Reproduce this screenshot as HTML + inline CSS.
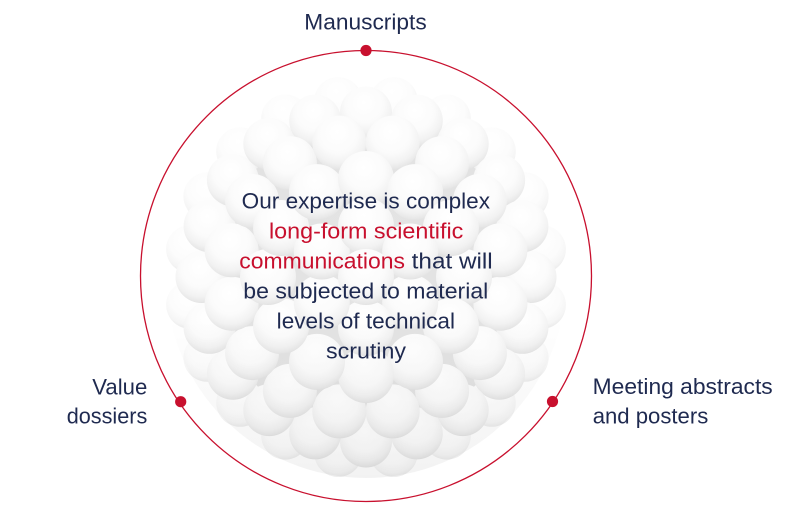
<!DOCTYPE html>
<html>
<head>
<meta charset="utf-8">
<style>
  html,body{margin:0;padding:0;background:#ffffff;}
  body{width:793px;height:516px;overflow:hidden;}
  svg{display:block;}
  .t{font-family:"Liberation Sans",Arial,sans-serif;font-size:22.5px;fill:#1f2a50;}
  .r{fill:#c8102e;}
</style>
</head>
<body>
<svg width="793" height="516" viewBox="0 0 793 516" xmlns="http://www.w3.org/2000/svg">
  <defs>
    <radialGradient id="ball" cx="0.48" cy="0.36" r="0.66" fx="0.46" fy="0.3">
      <stop offset="0" stop-color="#ffffff"/>
      <stop offset="0.55" stop-color="#fbfbfb"/>
      <stop offset="0.8" stop-color="#f2f2f2"/>
      <stop offset="0.94" stop-color="#e7e7e7"/>
      <stop offset="1" stop-color="#dedede"/>
    </radialGradient>
    <radialGradient id="ballo" cx="0.48" cy="0.36" r="0.66" fx="0.46" fy="0.3">
      <stop offset="0" stop-color="#ffffff"/>
      <stop offset="0.6" stop-color="#fcfcfc"/>
      <stop offset="0.85" stop-color="#f5f5f5"/>
      <stop offset="1" stop-color="#e9e9e9"/>
    </radialGradient>
    <radialGradient id="blob" cx="0.5" cy="0.45" r="0.55">
      <stop offset="0" stop-color="#e4e4e4"/>
      <stop offset="0.85" stop-color="#e2e2e2"/>
      <stop offset="1" stop-color="#ebebeb"/>
    </radialGradient>
    <linearGradient id="shade" x1="0" y1="0" x2="0" y2="1">
      <stop offset="0" stop-color="#000" stop-opacity="0"/>
      <stop offset="0.6" stop-color="#000" stop-opacity="0"/>
      <stop offset="1" stop-color="#000" stop-opacity="0.05"/>
    </linearGradient>
  </defs>

  <rect width="793" height="516" fill="#ffffff"/>

  <!-- ball cluster -->
  <circle cx="366" cy="278" r="182" fill="url(#blob)"/>
  <g fill="url(#ballo)">
    <!-- ring 5 -->
    <circle cx="541.9" cy="304.8" r="24"/><circle cx="524.6" cy="357.8" r="24"/><circle cx="491.8" cy="402.8" r="24"/><circle cx="446.8" cy="435.6" r="24"/><circle cx="393.8" cy="452.9" r="24"/>
    <circle cx="338.2" cy="452.9" r="24"/><circle cx="285.2" cy="435.6" r="24"/><circle cx="240.2" cy="402.8" r="24"/><circle cx="207.4" cy="357.8" r="24"/><circle cx="190.1" cy="304.8" r="24"/>
    <circle cx="190.1" cy="249.2" r="24"/><circle cx="207.4" cy="196.2" r="24"/><circle cx="240.2" cy="151.2" r="24"/><circle cx="285.2" cy="118.4" r="24"/><circle cx="338.2" cy="101.1" r="24"/>
    <circle cx="393.8" cy="101.1" r="24"/><circle cx="446.8" cy="118.4" r="24"/><circle cx="491.8" cy="151.2" r="24"/><circle cx="524.6" cy="196.2" r="24"/><circle cx="541.9" cy="249.2" r="24"/>
  </g>
  <g fill="url(#ball)">
    <!-- ring 4 -->
    <g>
      <circle cx="530.5" cy="277" r="26"/><circle cx="522.4" cy="327.8" r="26"/><circle cx="499.1" cy="373.7" r="26"/><circle cx="462.7" cy="410.1" r="26"/><circle cx="416.8" cy="433.4" r="26"/>
      <circle cx="366" cy="441.5" r="26"/><circle cx="315.2" cy="433.4" r="26"/><circle cx="269.3" cy="410.1" r="26"/><circle cx="232.9" cy="373.7" r="26"/><circle cx="209.6" cy="327.8" r="26"/>
      <circle cx="201.5" cy="277" r="26"/><circle cx="209.6" cy="226.2" r="26"/><circle cx="232.9" cy="180.3" r="26"/><circle cx="269.3" cy="143.9" r="26"/><circle cx="315.2" cy="120.6" r="26"/>
      <circle cx="366" cy="112.5" r="26"/><circle cx="416.8" cy="120.6" r="26"/><circle cx="462.7" cy="143.9" r="26"/><circle cx="499.1" cy="180.3" r="26"/><circle cx="522.4" cy="226.2" r="26"/>
    </g>
    <!-- ring 3 -->
    <g>
      <circle cx="500.4" cy="303.7" r="27"/><circle cx="479.9" cy="353.1" r="27"/><circle cx="442.1" cy="390.9" r="27"/><circle cx="392.7" cy="411.4" r="27"/>
      <circle cx="339.3" cy="411.4" r="27"/><circle cx="289.9" cy="390.9" r="27"/><circle cx="252.1" cy="353.1" r="27"/><circle cx="231.6" cy="303.7" r="27"/>
      <circle cx="231.6" cy="250.3" r="27"/><circle cx="252.1" cy="200.9" r="27"/><circle cx="289.9" cy="163.1" r="27"/><circle cx="339.3" cy="142.6" r="27"/>
      <circle cx="392.7" cy="142.6" r="27"/><circle cx="442.1" cy="163.1" r="27"/><circle cx="479.9" cy="200.9" r="27"/><circle cx="500.4" cy="250.3" r="27"/>
    </g>
    <!-- ring 2 -->
    <g>
      <circle cx="464" cy="277" r="28"/><circle cx="450.9" cy="326" r="28"/><circle cx="415" cy="361.9" r="28"/><circle cx="366" cy="375" r="28"/>
      <circle cx="317" cy="361.9" r="28"/><circle cx="281.1" cy="326" r="28"/><circle cx="268" cy="277" r="28"/><circle cx="281.1" cy="228" r="28"/>
      <circle cx="317" cy="192.1" r="28"/><circle cx="366" cy="179" r="28"/><circle cx="415" cy="192.1" r="28"/><circle cx="450.9" cy="228" r="28"/>
    </g>
    <!-- ring 1 -->
    <g>
      <circle cx="410.2" cy="302.5" r="28"/><circle cx="366" cy="328" r="28"/><circle cx="321.8" cy="302.5" r="28"/>
      <circle cx="321.8" cy="251.5" r="28"/><circle cx="366" cy="226" r="28"/><circle cx="410.2" cy="251.5" r="28"/>
    </g>
    <circle cx="366" cy="277" r="28"/>
  </g>
  <circle cx="366" cy="278" r="200" fill="url(#shade)"/>

  <!-- red orbit -->
  <circle cx="366" cy="276" r="225.5" fill="none" stroke="#c8102e" stroke-width="1.3"/>
  <circle cx="366" cy="50.5" r="5.6" fill="#c8102e"/>
  <circle cx="180.7" cy="401.7" r="5.6" fill="#c8102e"/>
  <circle cx="552.5" cy="401.5" r="5.6" fill="#c8102e"/>

  <!-- outer labels -->
  <text class="t" x="304.3" y="29.5" textLength="122.4" lengthAdjust="spacingAndGlyphs">Manuscripts</text>
  <text class="t" x="92.3" y="394.3" textLength="55" lengthAdjust="spacingAndGlyphs">Value</text>
  <text class="t" x="66.7" y="423.3" textLength="80.6" lengthAdjust="spacingAndGlyphs">dossiers</text>
  <text class="t" x="592.7" y="394" textLength="180" lengthAdjust="spacingAndGlyphs">Meeting abstracts</text>
  <text class="t" x="592.7" y="423.3" textLength="115.6" lengthAdjust="spacingAndGlyphs">and posters</text>

  <!-- center text -->
  <text class="t" x="241.7" y="208.3" textLength="248.3" lengthAdjust="spacingAndGlyphs">Our expertise is complex</text>
  <text class="t r" x="269" y="238.5" textLength="194.3" lengthAdjust="spacingAndGlyphs">long-form scientific</text>
  <text class="t r" x="239.3" y="268.5" textLength="165.7" lengthAdjust="spacingAndGlyphs">communications</text>
  <text class="t" x="411.7" y="268.5" textLength="81" lengthAdjust="spacingAndGlyphs">that will</text>
  <text class="t" x="243.3" y="298.5" textLength="245" lengthAdjust="spacingAndGlyphs">be subjected to material</text>
  <text class="t" x="276.7" y="328.5" textLength="178.3" lengthAdjust="spacingAndGlyphs">levels of technical</text>
  <text class="t" x="326" y="358.3" textLength="80" lengthAdjust="spacingAndGlyphs">scrutiny</text>
</svg>
</body>
</html>
